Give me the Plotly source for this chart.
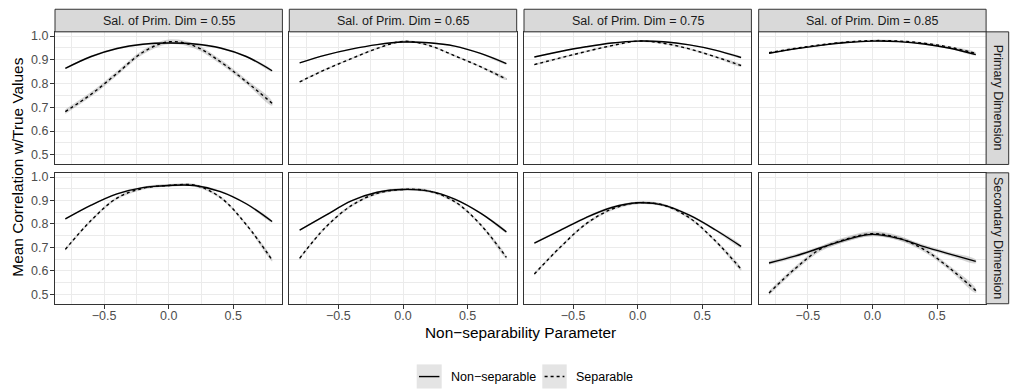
import plotly.graph_objects as go

W, H = 1011, 389

# ---------------- data ----------------
x_vals = [-0.8, -0.6, -0.4, -0.2, 0.0, 0.2, 0.4, 0.6, 0.8]
saliences = ["0.55", "0.65", "0.75", "0.85"]
dimensions = ["Primary Dimension", "Secondary Dimension"]
series_names = ["Non\u2212separable", "Separable"]
x_tickvals = [-0.5, 0.0, 0.5]
x_ticktext = ["\u22120.5", "0.0", "0.5"]
y_tickvals = [0.5, 0.6, 0.7, 0.8, 0.9, 1.0]
y_ticktext = ["0.5", "0.6", "0.7", "0.8", "0.9", "1.0"]

prim_055_nonsep = [0.864, 0.914, 0.948, 0.966, 0.971, 0.967, 0.950, 0.914, 0.854]
prim_055_sep = [0.682, 0.755, 0.843, 0.932, 0.976, 0.958, 0.892, 0.808, 0.717]
prim_065_nonsep = [0.887, 0.920, 0.945, 0.964, 0.975, 0.972, 0.958, 0.927, 0.884]
prim_065_sep = [0.807, 0.859, 0.905, 0.948, 0.978, 0.961, 0.917, 0.871, 0.819]
prim_075_nonsep = [0.912, 0.935, 0.955, 0.971, 0.979, 0.976, 0.963, 0.941, 0.910]
prim_075_sep = [0.880, 0.908, 0.935, 0.960, 0.979, 0.970, 0.946, 0.913, 0.876]
prim_085_nonsep = [0.928, 0.946, 0.961, 0.973, 0.979, 0.977, 0.967, 0.949, 0.922]
prim_085_sep = [0.930, 0.948, 0.963, 0.975, 0.981, 0.979, 0.970, 0.953, 0.927]

sec_055_nonsep = [0.821, 0.880, 0.928, 0.955, 0.964, 0.964, 0.938, 0.886, 0.810]
sec_055_sep = [0.691, 0.815, 0.910, 0.952, 0.964, 0.965, 0.913, 0.797, 0.646]
sec_065_nonsep = [0.773, 0.836, 0.898, 0.935, 0.947, 0.940, 0.906, 0.846, 0.766]
sec_065_sep = [0.653, 0.785, 0.878, 0.930, 0.947, 0.940, 0.895, 0.797, 0.657]
sec_075_nonsep = [0.718, 0.772, 0.827, 0.870, 0.890, 0.880, 0.837, 0.775, 0.704]
sec_075_sep = [0.586, 0.700, 0.800, 0.863, 0.890, 0.880, 0.826, 0.728, 0.607]
sec_085_nonsep = [0.633, 0.662, 0.698, 0.733, 0.755, 0.738, 0.703, 0.671, 0.640]
sec_085_sep = [0.505, 0.608, 0.693, 0.735, 0.758, 0.740, 0.690, 0.610, 0.515]

# CI half-widths (per salience column)
ci_prim_nonsep = [0.004, 0.003, 0.003, 0.003]
ci_prim_sep = [0.010, 0.004, 0.004, 0.004]
ci_sec_nonsep = [0.004, 0.004, 0.005, 0.008]
ci_sec_sep = [0.006, 0.006, 0.006, 0.010]

nonsep_rows = [
    [prim_055_nonsep, prim_065_nonsep, prim_075_nonsep, prim_085_nonsep],
    [sec_055_nonsep, sec_065_nonsep, sec_075_nonsep, sec_085_nonsep],
]
sep_rows = [
    [prim_055_sep, prim_065_sep, prim_075_sep, prim_085_sep],
    [sec_055_sep, sec_065_sep, sec_075_sep, sec_085_sep],
]
ci_nonsep_rows = [ci_prim_nonsep, ci_sec_nonsep]
ci_sep_rows = [ci_prim_sep, ci_sec_sep]

# ---------------- layout geometry (pixels) ----------------
col_left = [55.0, 289.3, 524.0, 758.7]
panel_w = 227.4
row_top = [30.0, 171.7]
row_bot = [163.3, 303.3]
strip_top = 7.3
strip_right = 1008.7

FONT = "Liberation Sans, Arial, sans-serif"
GRID = "#ebebeb"
BORDER = "#333333"


def px_x(p):
    return p / W


def px_y(p):
    return 1 - p / H


fig = go.Figure()
layout = dict(
    width=W, height=H, margin=dict(l=0, r=0, t=0, b=0),
    paper_bgcolor="white", plot_bgcolor="white",
    showlegend=False, font=dict(family=FONT, size=12.5, color="#4d4d4d"),
)

shapes = []
annotations = []

dash_pat = "3px,3px"
lw = 1.4

for r in range(2):
    for c in range(4):
        k = r * 4 + c + 1
        xa = "x" if k == 1 else f"x{k}"
        ya = "y" if k == 1 else f"y{k}"
        y_non = nonsep_rows[r][c]
        y_sep = sep_rows[r][c]
        hw_non = ci_nonsep_rows[r][c]
        hw_sep = ci_sep_rows[r][c]
        for ys, hw in ((y_non, hw_non), (y_sep, hw_sep)):
            up = [v + hw for v in ys]
            lo = [v - hw for v in ys]
            fig.add_trace(go.Scatter(
                x=x_vals + x_vals[::-1], y=up + lo[::-1],
                fill="toself", fillcolor="rgba(153,153,153,0.4)",
                line=dict(width=0, shape="spline"), mode="lines",
                hoverinfo="skip", xaxis=xa, yaxis=ya))
        fig.add_trace(go.Scatter(
            x=x_vals, y=y_non, mode="lines", name=series_names[0],
            line=dict(color="black", width=lw, shape="spline"),
            xaxis=xa, yaxis=ya))
        fig.add_trace(go.Scatter(
            x=x_vals, y=y_sep, mode="lines", name=series_names[1],
            line=dict(color="black", width=lw, shape="spline", dash=dash_pat),
            xaxis=xa, yaxis=ya))

        xkey = "xaxis" if k == 1 else f"xaxis{k}"
        ykey = "yaxis" if k == 1 else f"yaxis{k}"
        layout[xkey] = dict(
            domain=[px_x(col_left[c]), px_x(col_left[c] + panel_w)],
            anchor=ya, range=[-0.88, 0.88],
            tickmode="array", tickvals=x_tickvals, ticktext=x_ticktext,
            showticklabels=(r == 1), ticks="outside" if r == 1 else "",
            ticklen=4, tickwidth=1, tickcolor=BORDER, ticklabelstandoff=-4,
            tickfont=dict(family=FONT, size=12.5, color="#4d4d4d"),
            showline=True, mirror=True, linecolor=BORDER, linewidth=1,
            showgrid=True, gridcolor=GRID, gridwidth=1.1, zeroline=False,
            minor=dict(tickmode="array", tickvals=[-0.75, -0.25, 0.25, 0.75],
                       showgrid=True, gridcolor=GRID, gridwidth=0.7, ticks=""),
        )
        layout[ykey] = dict(
            domain=[px_y(row_bot[r]), px_y(row_top[r])],
            anchor=xa, range=[0.459, 1.018],
            tickmode="array", tickvals=y_tickvals, ticktext=y_ticktext,
            showticklabels=(c == 0), ticks="outside" if c == 0 else "",
            ticklen=4, tickwidth=1, tickcolor=BORDER, ticklabelstandoff=-1,
            tickfont=dict(family=FONT, size=12.5, color="#4d4d4d"),
            showline=True, mirror=True, linecolor=BORDER, linewidth=1,
            showgrid=True, gridcolor=GRID, gridwidth=1.1, zeroline=False,
            minor=dict(tickmode="array",
                       tickvals=[0.55, 0.65, 0.75, 0.85, 0.95],
                       showgrid=True, gridcolor=GRID, gridwidth=0.7, ticks=""),
        )

# top strips
for c in range(4):
    x0, x1 = col_left[c], col_left[c] + panel_w
    shapes.append(dict(type="rect", xref="paper", yref="paper",
                       x0=px_x(x0), x1=px_x(x1), y0=px_y(row_top[0]), y1=px_y(strip_top),
                       fillcolor="#d9d9d9", line=dict(color=BORDER, width=1), layer="above"))
    annotations.append(dict(xref="paper", yref="paper",
                            x=px_x((x0 + x1) / 2), y=px_y((strip_top + row_top[0]) / 2),
                            text=f"Sal. of Prim. Dim = {saliences[c]}", showarrow=False,
                            xanchor="center", yanchor="middle",
                            font=dict(family=FONT, size=12.5, color="#1a1a1a")))

# right strips
x0 = col_left[3] + panel_w
for r in range(2):
    shapes.append(dict(type="rect", xref="paper", yref="paper",
                       x0=px_x(x0), x1=px_x(strip_right), y0=px_y(row_bot[r]), y1=px_y(row_top[r]),
                       fillcolor="#d9d9d9", line=dict(color=BORDER, width=1), layer="above"))
    annotations.append(dict(xref="paper", yref="paper",
                            x=px_x((x0 + strip_right) / 2), y=px_y((row_top[r] + row_bot[r]) / 2),
                            text=dimensions[r], showarrow=False, textangle=90,
                            xanchor="center", yanchor="middle",
                            font=dict(family=FONT, size=12.5, color="#1a1a1a")))

# axis titles
annotations.append(dict(xref="paper", yref="paper", x=px_x(520.5), y=px_y(332),
                        text="Non\u2212separability Parameter", showarrow=False,
                        xanchor="center", yanchor="middle",
                        font=dict(family=FONT, size=15.4, color="black")))
annotations.append(dict(xref="paper", yref="paper", x=px_x(18), y=px_y(166.5),
                        text="Mean Correlation w/True Values", showarrow=False, textangle=-90,
                        xanchor="center", yanchor="middle",
                        font=dict(family=FONT, size=15.4, color="black")))

# legend (manual, ggplot-like)
leg_y = 376.5
key_boxes = [(416.7, 441.7), (542.3, 566.7)]
text_x = [449.0, 574.3]
for i, (bx0, bx1) in enumerate(key_boxes):
    shapes.append(dict(type="rect", xref="paper", yref="paper",
                       x0=px_x(bx0), x1=px_x(bx1), y0=px_y(388.5), y1=px_y(364.3),
                       fillcolor="#e4e4e4", line=dict(width=0)))
    shapes.append(dict(type="line", xref="paper", yref="paper",
                       x0=px_x(bx0 + 2.3), x1=px_x(bx1 - 2.3), y0=px_y(leg_y), y1=px_y(leg_y),
                       line=dict(color="black", width=lw, dash=None if i == 0 else dash_pat)))
    annotations.append(dict(xref="paper", yref="paper", x=px_x(text_x[i]), y=px_y(leg_y),
                            text=series_names[i], showarrow=False,
                            xanchor="left", yanchor="middle",
                            font=dict(family=FONT, size=12.5, color="black")))

layout["shapes"] = shapes
layout["annotations"] = annotations
fig.update_layout(**layout)
fig.write_html("out.html")
